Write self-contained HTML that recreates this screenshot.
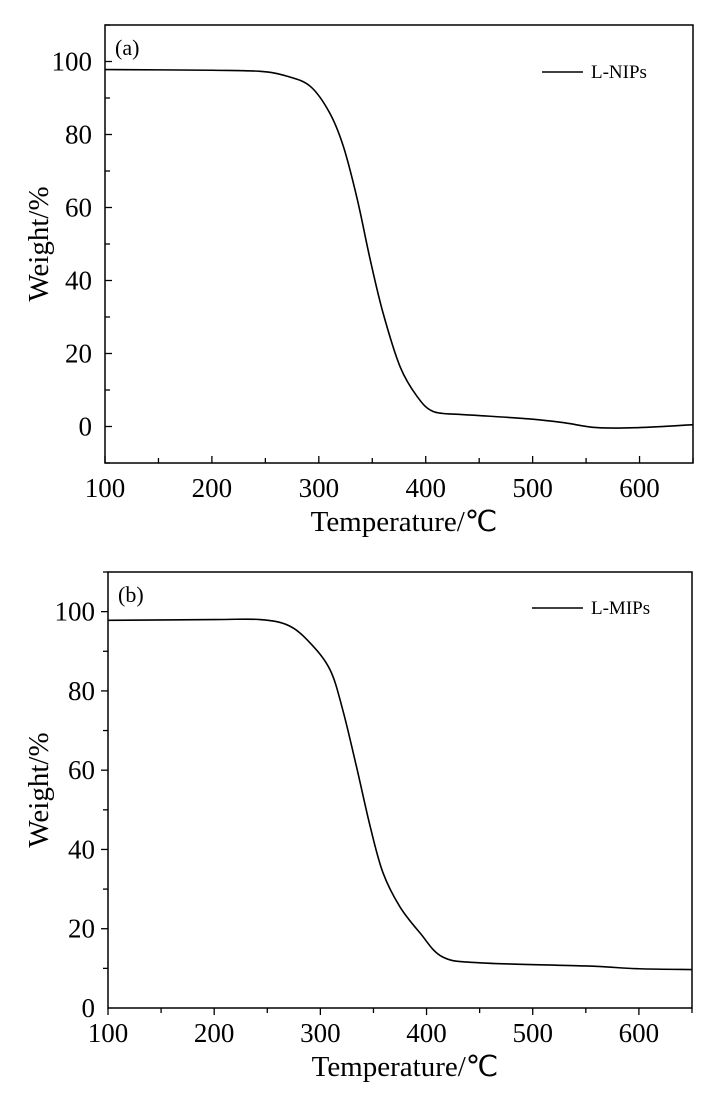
<!DOCTYPE html>
<html><head><meta charset="utf-8"><style>
body{margin:0;background:#fff}
svg{display:block;font-family:"Liberation Serif",serif}
</style></head><body>
<svg id="c" width="720" height="1102"></svg>
<script>
const tempsA=[100,200,245,270,292,310,323,336,348,360,376,392,407,432,450,500,530,560,600,650];
const weightA=[97.8,97.6,97.3,96,93.2,86,76.7,62.2,45.8,31.2,16.4,8.2,4.1,3.3,3,2,1,-0.3,-0.3,0.5];
const tempsB=[100,200,243,270,290,309,321,334,347,359,375,394,415,450,550,600,650];
const weightB=[97.8,98,98,96.5,92.2,85.4,75.3,60.9,45.7,34.1,25.5,18.9,12.9,11.4,10.6,9.9,9.7];
const xTicks=[100,200,300,400,500,600];
const yTicksA=[0,20,40,60,80,100];
const yTicksB=[0,20,40,60,80,100];
const svg=document.getElementById('c');
const NS='http://www.w3.org/2000/svg';
function mk(t,a,p){const e=document.createElementNS(NS,t);for(const k in a)e.setAttribute(k,a[k]);(p||svg).appendChild(e);return e;}
function panel(o){
  const g=mk('g',{});
  
  
  const X=v=>o.x0+(v-100)/(650-100)*(o.x1-o.x0);
  const Y=v=>o.yb+(v-o.ymin)/(110-o.ymin)*(o.yt-o.yb);
  const box=mk('rect',{x:o.x0,y:o.yt,width:o.x1-o.x0,height:o.yb-o.yt,fill:'none',stroke:'#000','stroke-width':1.5},g);
  
  const d=o.inward?-1:1;
  for(let v=100;v<=650;v+=50){const x=X(v);const L=(v%100===0)?7:5;
    const t=mk('line',{x1:x,x2:x,y1:o.yb,y2:o.yb+d*L,stroke:'#000','stroke-width':1.3},g);
    }
  xTicks.forEach(v=>{const t=mk('text',{x:X(v),y:o.yb+34,'font-size':27,'text-anchor':'middle'},g);t.textContent=v;
    });
  for(let v=o.ymin;v<=110;v+=10){if(v===o.ymin&&!o.inward)continue;const y=Y(v);const L=(v%20===0)?7:5;
    const t=mk('line',{x1:o.x0,x2:o.x0-d*L,y1:y,y2:y,stroke:'#000','stroke-width':1.3},g);
    }
  o.yt_.forEach(v=>{const t=mk('text',{x:o.x0-13,y:Y(v)+9,'font-size':27,'text-anchor':'end'},g);t.textContent=v;
    });
  const xt=mk('text',{x:(o.x0+o.x1)/2+5,y:o.yb+68,'font-size':29,'text-anchor':'middle'},g);xt.textContent='Temperature/℃';
  
  const yc=(o.yt+o.yb)/2;
  const yt=mk('text',{x:48,y:yc,'font-size':29,'text-anchor':'middle',transform:`rotate(-90 48 ${yc})`},g);yt.textContent='Weight/%';
  
  const lb=mk('text',{x:o.x0+10,y:o.yt+30,'font-size':22},g);lb.textContent=o.label;
  
  const P=o.t.map((t,i)=>[X(t),Y(o.w[i])]);
  let p='M'+P[0][0]+','+P[0][1];
  for(let i=0;i<P.length-1;i++){const a=P[Math.max(0,i-1)],b=P[i],c=P[i+1],e=P[Math.min(P.length-1,i+2)];
    p+=` C${b[0]+(c[0]-a[0])/6},${b[1]+(c[1]-a[1])/6} ${c[0]-(e[0]-b[0])/6},${c[1]-(e[1]-b[1])/6} ${c[0]},${c[1]}`;}
  const ln=mk('path',{d:p,fill:'none',stroke:'#000','stroke-width':1.6},g);
  
  const lg=mk('line',{x1:o.lx,x2:583,y1:o.ly,y2:o.ly,stroke:'#000','stroke-width':1.5},g);
  
  const lt=mk('text',{x:591,y:o.ly+6,'font-size':19},g);lt.textContent=o.series;
  
}
panel({name:'panel-a',x0:105,x1:693,yt:25,yb:463,ymin:-10,inward:true,t:tempsA,w:weightA,yt_:yTicksA,label:'(a)',series:'L-NIPs',lx:542,ly:72});
panel({name:'panel-b',x0:108,x1:692,yt:572,yb:1008,ymin:0,inward:false,t:tempsB,w:weightB,yt_:yTicksB,label:'(b)',series:'L-MIPs',lx:532,ly:608});
</script>
</body></html>
